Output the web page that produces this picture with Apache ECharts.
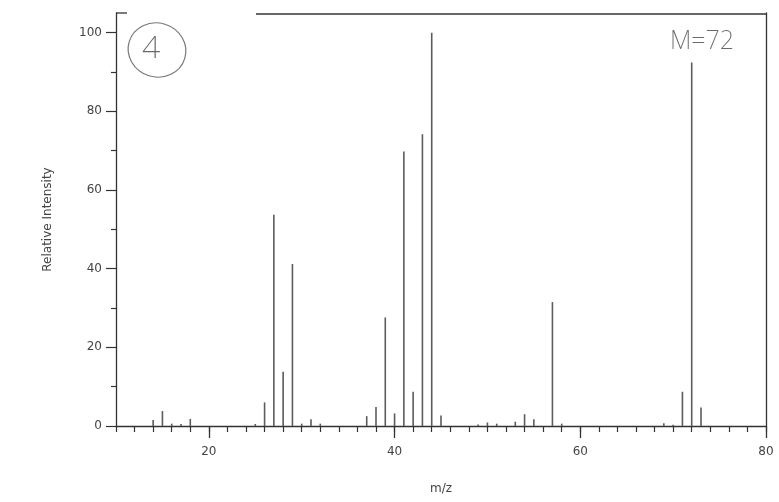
<!DOCTYPE html>
<html>
<head>
<meta charset="utf-8">
<script src="https://cdn.jsdelivr.net/npm/echarts@6/dist/echarts.min.js"></script>
<style>html,body{margin:0;padding:0;background:#fff;}#c{width:779px;height:502px;}</style>
</head>
<body>
<div id="c"></div>
<script>
const mz = [14,15,16,17,18,25,26,27,28,29,30,31,32,37,38,39,40,41,42,43,44,45,49,50,51,53,54,55,57,58,69,70,71,72,73];
const intensity = [1.5,3.8,0.6,0.5,1.8,0.5,6.0,53.7,13.8,41.2,0.6,1.7,0.6,2.5,4.8,27.6,3.2,69.8,8.7,74.2,100,2.7,0.4,0.9,0.6,1.1,3.0,1.7,31.5,0.6,0.7,0.3,8.7,92.4,4.7];
const xMajor = [20,40,60,80];
const yMajor = [0,20,40,60,80,100];
const yMinor = [10,30,50,70,90];
const note1 = '4';
const note2 = 'M=72';

const G = {left:116, right:13, top:13, bottom:76};
const W = 779, H = 502;
const font = 'DejaVu Sans';
const axisCol = '#333';
const txtCol = '#444';

const chart = echarts.init(document.getElementById('c'), null, {renderer:'canvas'});
chart.setOption({
  animation:false,
  backgroundColor:'#fff',
  grid:{left:G.left, right:G.right, top:G.top, bottom:G.bottom, containLabel:false},
  xAxis:[
    {type:'value', min:10, max:80, interval:2, position:'bottom',
     axisLine:{show:true, onZero:false, lineStyle:{color:axisCol, width:1.3}},
     axisTick:{show:true, inside:false, length:6, lineStyle:{color:axisCol, width:1.2}},
     axisLabel:{show:false}, splitLine:{show:false}},
    {type:'value', min:10, max:80, position:'bottom',
     axisLine:{show:false, onZero:false},
     axisTick:{show:true, customValues:xMajor, length:12, lineStyle:{color:axisCol, width:1.3}},
     axisLabel:{show:true, customValues:xMajor, margin:20, fontFamily:font, fontSize:12, color:txtCol},
     splitLine:{show:false},
     name:'m/z', nameLocation:'middle', nameGap:57,
     nameTextStyle:{fontFamily:font, fontSize:12, color:txtCol}}
  ],
  yAxis:[
    {type:'value', min:0, max:105, position:'left',
     axisLine:{show:true, onZero:false, lineStyle:{color:axisCol, width:1.3}},
     axisTick:{show:true, customValues:yMajor, length:10, lineStyle:{color:axisCol, width:1.2}},
     axisLabel:{show:true, customValues:yMajor, margin:14, fontFamily:font, fontSize:12, color:txtCol},
     splitLine:{show:false},
     name:'Relative Intensity', nameLocation:'middle', nameGap:62,
     nameTextStyle:{fontFamily:font, fontSize:12, color:txtCol}},
    {type:'value', min:0, max:105, position:'left',
     axisLine:{show:false},
     axisTick:{show:true, customValues:yMinor, length:5, lineStyle:{color:axisCol, width:1.2}},
     axisLabel:{show:false}, splitLine:{show:false}},
    {type:'value', min:0, max:105, position:'right',
     axisLine:{show:true, onZero:false, lineStyle:{color:axisCol, width:1.3}},
     axisTick:{show:false}, axisLabel:{show:false}, splitLine:{show:false}}
  ],
  series:[{
    type:'bar', xAxisIndex:0, yAxisIndex:0, barWidth:1.6, silent:true,
    itemStyle:{color:'#5c5c5c'},
    data: mz.map((m,i)=>[m, intensity[i]])
  }],
  graphic:[
    {type:'line', shape:{x1:G.left, y1:G.top, x2:G.left+11, y2:G.top}, style:{stroke:axisCol, lineWidth:1.3}},
    {type:'line', shape:{x1:256, y1:G.top+1, x2:W-G.right, y2:G.top+1}, style:{stroke:axisCol, lineWidth:1.3}},
    {type:'ellipse', shape:{cx:157, cy:50, rx:29, ry:27}, rotation:-0.3, originX:157, originY:50,
     style:{fill:'none', stroke:'#777', lineWidth:1.2}},
    {type:'text', x:151, y:49, style:{text:note1, fontFamily:'Noto Sans', fontWeight:200, fontSize:32, fill:'#6a6a6a', align:'center', verticalAlign:'middle'}},
    {type:'text', x:702, y:42, style:{text:note2, fontFamily:'Noto Sans', fontWeight:200, fontSize:25, fill:'#6a6a6a', align:'center', verticalAlign:'middle'}}
  ]
});
</script>
</body>
</html>
